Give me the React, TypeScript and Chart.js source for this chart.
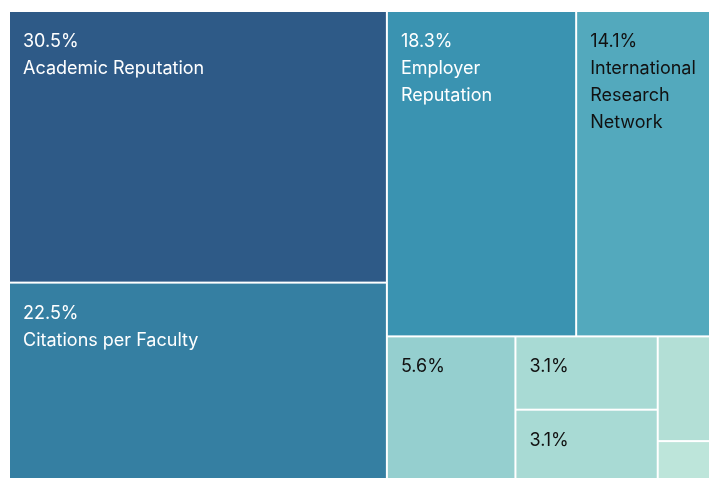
import React, { useEffect, useRef } from 'react';
import { Chart, registerables } from 'chart.js';

Chart.register(...registerables);

// ---- data ----
const categories = [
  'Academic Reputation',
  'Citations per Faculty',
  'Employer Reputation',
  'International Research Network',
  '',
  '',
  '',
  '',
  '',
];
const values = [30.5, 22.5, 18.3, 14.1, 5.6, 3.1, 3.1, 2.0, 0.8];
const cellColors = [
  '#2e5a87',
  '#357fa2',
  '#3a93b1',
  '#53a9bd',
  '#95cfcf',
  '#a8dad4',
  '#a8dad4',
  '#b3dfd6',
  '#bde5da',
];
const textColors = [
  '#ffffff',
  '#ffffff',
  '#ffffff',
  '#111111',
  '#111111',
  '#111111',
  '#111111',
  '#111111',
  '#111111',
];

type Rect = { x0: number; y0: number; x1: number; y1: number };

// d3-style squarify (golden ratio)
function squarify(vals: number[], x0: number, y0: number, x1: number, y1: number): Rect[] {
  const ratio = (1 + Math.sqrt(5)) / 2;
  const n = vals.length;
  const out: Rect[] = new Array(n);
  let value = vals.reduce((a, b) => a + b, 0);
  let i0 = 0;
  let i1 = 0;
  while (i0 < n) {
    const dx = x1 - x0;
    const dy = y1 - y0;
    let sumValue = vals[i1++];
    let minV = sumValue;
    let maxV = sumValue;
    const alpha = Math.max(dy / dx, dx / dy) / (value * ratio);
    let beta = sumValue * sumValue * alpha;
    let minRatio = Math.max(maxV / beta, beta / minV);
    for (; i1 < n; ++i1) {
      const nv = vals[i1];
      sumValue += nv;
      if (nv < minV) minV = nv;
      if (nv > maxV) maxV = nv;
      beta = sumValue * sumValue * alpha;
      const nr = Math.max(maxV / beta, beta / minV);
      if (nr > minRatio) {
        sumValue -= nv;
        break;
      }
      minRatio = nr;
    }
    if (dx < dy) {
      const ny = i1 >= n ? y1 : y0 + (dy * sumValue) / value;
      let x = x0;
      for (let i = i0; i < i1; i++) {
        const w = ((x1 - x0) * vals[i]) / sumValue;
        out[i] = { x0: x, y0, x1: x + w, y1: ny };
        x += w;
      }
      y0 = ny;
    } else {
      const nx = i1 >= n ? x1 : x0 + (dx * sumValue) / value;
      let y = y0;
      for (let i = i0; i < i1; i++) {
        const h = ((y1 - y0) * vals[i]) / sumValue;
        out[i] = { x0, y0: y, x1: nx, y1: y + h };
        y += h;
      }
      x0 = nx;
    }
    value -= sumValue;
    i0 = i1;
  }
  return out;
}

function wrapWords(ctx: CanvasRenderingContext2D, text: string, maxW: number): string[] {
  const words = text.split(' ').filter(Boolean);
  const lines: string[] = [];
  let cur = '';
  for (const w of words) {
    const test = cur ? cur + ' ' + w : w;
    if (cur && ctx.measureText(test).width > maxW) {
      lines.push(cur);
      cur = w;
    } else {
      cur = test;
    }
  }
  if (cur) lines.push(cur);
  return lines;
}

const FONT = '18px Inter, "Noto Sans", sans-serif';

const treemapPlugin = {
  id: 'treemapCells',
  afterDatasetsDraw(chart: any) {
    const ctx: CanvasRenderingContext2D = chart.ctx;
    const area = chart.chartArea;
    const xs = chart.scales.x;
    const ys = chart.scales.y;
    const W = area.right - area.left;
    const H = area.bottom - area.top;
    const rects = squarify(values, 0, 0, W, H);
    const gap = 1;
    const pad = 13;
    ctx.save();
    rects.forEach((r, i) => {
      const px0 = xs.getPixelForValue(r.x0 / W);
      const px1 = xs.getPixelForValue(r.x1 / W);
      const py0 = ys.getPixelForValue(r.y0 / H);
      const py1 = ys.getPixelForValue(r.y1 / H);
      const left = px0 + gap;
      const top = py0 + gap;
      const w = px1 - px0 - 2 * gap;
      const h = py1 - py0 - 2 * gap;
      ctx.fillStyle = cellColors[i];
      ctx.fillRect(left, top, w, h);

      ctx.font = FONT;
      ctx.textAlign = 'left';
      ctx.textBaseline = 'alphabetic';
      ctx.fillStyle = textColors[i];
      const valText = values[i].toFixed(1) + '%';
      const tw = ctx.measureText(valText).width;
      if (tw + 2 * pad > w || h < 45) return;
      ctx.fillText(valText, left + pad, top + 35);
      const name = categories[i];
      if (name) {
        const lines = wrapWords(ctx, name, w - 2 * pad);
        lines.forEach((ln, k) => {
          const y = top + 62 + k * 27;
          if (y < top + h - 4) ctx.fillText(ln, left + pad, y);
        });
      }
    });
    ctx.restore();
  },
};

export default function App() {
  const ref = useRef<HTMLCanvasElement | null>(null);
  useEffect(() => {
    if (!ref.current) return;
    const chart = new Chart(ref.current, {
      type: 'scatter',
      data: { datasets: [] },
      options: {
        animation: false,
        responsive: false,
        devicePixelRatio: 1,
        layout: { padding: { left: 1, top: 3, right: 2, bottom: 2 } },
        scales: {
          x: { type: 'linear', min: 0, max: 1, display: false },
          y: { type: 'linear', min: 0, max: 1, reverse: true, display: false },
        },
        plugins: {
          legend: { display: false },
          tooltip: { enabled: false },
        },
      },
      plugins: [treemapPlugin],
    } as any);
    return () => chart.destroy();
  }, []);
  return (
    <div
      style={{
        position: 'fixed',
        left: 8,
        top: 8,
        width: 701,
        height: 470,
        overflow: 'hidden',
        background: '#ffffff',
      }}
    >
      <canvas ref={ref} width={716} height={477} style={{ display: 'block', width: 716, height: 477 }} />
    </div>
  );
}
